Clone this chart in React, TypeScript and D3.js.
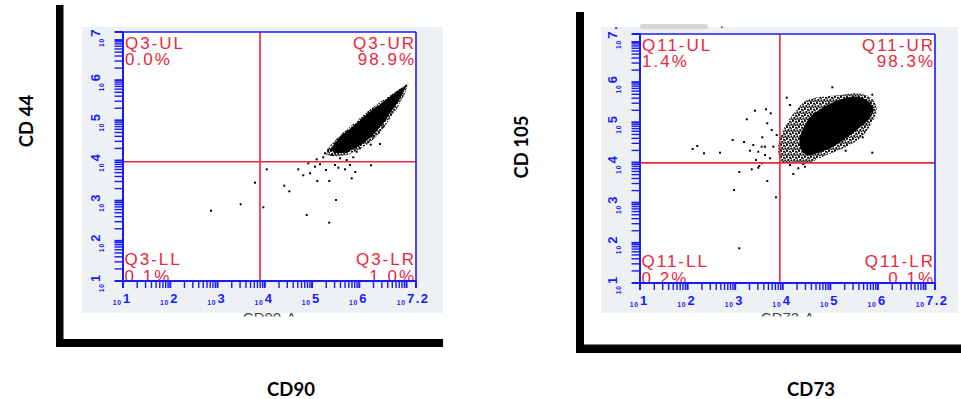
import React from 'react';
import * as d3 from 'd3';

type Pt = [number, number];

// ---------- data (log10 units) ----------
const AXIS_MAX_EXP = 7.2;
const tickExponents = [1, 2, 3, 4, 5, 6, 7.2];

const yTitles = ['CD 44', 'CD 105'];
const xTitles = ['CD90', 'CD73'];
const channelNames = ['CD90-A', 'CD73-A'];

const leftQuadrants = ['Q3-UL', 'Q3-UR', 'Q3-LL', 'Q3-LR'];
const leftPercents = ['0.0%', '98.9%', '0.1%', '1.0%'];
const rightQuadrants = ['Q11-UL', 'Q11-UR', 'Q11-LL', 'Q11-LR'];
const rightPercents = ['1.4%', '98.3%', '0.2%', '0.1%'];

const leftGate: Pt = [3.9, 3.97];
const rightGate: Pt = [3.94, 3.99];

const leftCore: Pt[] = [
  [7.016, 5.905], [6.791, 5.714], [6.508, 5.465], [6.226, 5.216], [5.945, 4.927],
  [5.767, 4.76], [5.628, 4.635], [5.534, 4.511], [5.45, 4.386], [5.38, 4.262],
  [5.522, 4.18], [5.733, 4.195], [5.945, 4.329], [6.157, 4.493], [6.332, 4.678],
  [6.508, 4.927], [6.65, 5.176], [6.825, 5.465], [6.967, 5.773],
];
const leftHalo: Pt[] = [
  [7.04, 5.93], [6.8, 5.74], [6.5, 5.5], [6.2, 5.25], [5.92, 4.96], [5.64, 4.68],
  [5.45, 4.46], [5.32, 4.28], [5.3, 4.14], [5.48, 4.1], [5.75, 4.14], [5.98, 4.27],
  [6.22, 4.44], [6.42, 4.66], [6.6, 4.95], [6.8, 5.3], [6.96, 5.65], [7.02, 5.85],
];
const leftDots: Pt[] = [
  [2.862, 2.75], [3.49, 2.91], [3.793, 3.448], [4.041, 3.781], [3.969, 2.835],
  [4.413, 3.373], [4.519, 3.234], [4.887, 2.643], [5.365, 2.452], [5.507, 3.017],
  [5.111, 3.49], [5.365, 3.49], [4.815, 3.632], [4.709, 3.781], [4.957, 3.682],
  [5.839, 3.557], [5.915, 3.714], [6.248, 3.881], [5.697, 3.781], [5.556, 3.821],
  [5.295, 3.764], [5.063, 3.846], [5.168, 3.906], [4.921, 3.931], [5.486, 3.888],
  [5.803, 3.888], [6.438, 4.411], [6.241, 4.394], [6.508, 4.842], [6.121, 4.593],
  [6.015, 4.304], [5.945, 4.22], [5.344, 4.262], [5.416, 4.137], [5.238, 4.08],
  [5.099, 4.03], [5.592, 4.055], [5.733, 4.013], [5.873, 4.08], [5.274, 4.18],
  [5.486, 4.195], [6.296, 4.618], [6.19, 4.469], [6.544, 5.133], [6.614, 5.3],
];

const rightCore: Pt[] = [
  [4.363, 4.643], [4.447, 4.892], [4.573, 5.126], [4.783, 5.325], [5.134, 5.539],
  [5.449, 5.639], [5.693, 5.599], [5.87, 5.432], [5.903, 5.265], [5.798, 5.059],
  [5.554, 4.81], [5.273, 4.561], [4.993, 4.354], [4.714, 4.23], [4.504, 4.187],
  [4.378, 4.354],
];
const rightHalo: Pt[] = [
  [3.942, 4.603], [4.083, 4.977], [4.293, 5.308], [4.504, 5.557], [4.852, 5.639],
  [5.203, 5.681], [5.554, 5.724], [5.87, 5.599], [5.975, 5.308], [5.87, 4.977],
  [5.66, 4.643], [5.344, 4.394], [4.924, 4.187], [4.504, 3.981], [4.222, 4.02],
  [3.978, 4.02], [3.907, 4.269],
];
const rightDots: Pt[] = [
  [5.042, 5.873], [5.882, 5.689], [5.882, 4.245], [4.083, 5.614], [4.153, 5.432],
  [3.417, 5.29], [3.648, 5.325], [3.747, 5.226], [3.243, 5.076], [3.675, 4.977],
  [3.768, 4.81], [2.948, 4.561], [3.186, 4.511], [2.108, 4.337], [2.204, 4.411],
  [2.345, 4.23], [2.681, 4.245], [3.381, 4.436], [3.312, 4.294], [3.558, 4.394],
  [3.486, 4.269], [3.627, 4.187], [3.438, 4.063], [3.558, 3.981], [3.348, 3.831],
  [3.486, 3.871], [3.087, 3.764], [3.675, 3.54], [2.976, 3.316], [3.858, 3.134],
  [3.087, 1.864], [4.222, 3.714], [4.327, 3.856], [4.468, 3.896], [3.732, 4.105],
  [3.802, 4.394], [3.873, 4.685], [5.681, 4.628], [5.323, 4.294], [4.153, 3.938],
  [4.432, 3.963], [3.507, 3.913], [3.57, 4.628], [3.627, 4.394],
];

// ---------- styling ----------
const BLUE = '#1a1aff';
const RED = '#e8283c';
const GRAY = '#eef1f4';
const SANS = '"Liberation Sans", Arial, sans-serif';
const TITLE_FONT = 'Lato, "Open Sans", sans-serif';

interface Geo { l: number; t: number; r: number; b: number; gx: number; gy: number; gw: number; gh: number; }

interface PanelProps {
  id: string; geo: Geo; core: Pt[]; halo: Pt[]; dots: Pt[];
  names: string[]; pcts: string[]; gate: Pt; channel: string;
  pointy: boolean; artifact?: boolean;
}

function Panel({ id, geo, core, halo, dots, names, pcts, gate, channel, pointy, artifact }: PanelProps) {
  const dom = [10, Math.pow(10, AXIS_MAX_EXP)];
  const x = d3.scaleLog().domain(dom).range([geo.l, geo.r]);
  const y = d3.scaleLog().domain(dom).range([geo.b, geo.t]);
  const px = (e: number) => x(Math.pow(10, e));
  const py = (e: number) => y(Math.pow(10, e));
  const shape = (curve: any) =>
    d3.line<Pt>().x(d => px(d[0])).y(d => py(d[1])).curve(curve);
  const curve = pointy ? d3.curveLinearClosed : d3.curveCatmullRomClosed;
  const ticks = x.ticks().filter(v => v <= dom[1] * 1.0001).concat([dom[1]]);
  const isMajor = (v: number) => {
    const l = Math.log10(v);
    return Math.abs(l - Math.round(l)) < 1e-6 || v === dom[1];
  };
  const gx = px(gate[0]);
  const gy = py(gate[1]);
  const lab = { fontFamily: SANS, fontSize: 17, fill: RED, letterSpacing: 2 } as any;
  const tickFont = { fontFamily: SANS, fill: BLUE } as any;
  const expStyle = { ...tickFont, fontSize: 13, fontWeight: 700, letterSpacing: 1.5 };
  const tenStyle = { ...tickFont, fontSize: 6.8, fontWeight: 700, letterSpacing: 0.8 };

  return (
    <g>
      <defs>
        <clipPath id={`gray-${id}`}>
          <rect x={geo.gx} y={geo.gy} width={geo.gw} height={geo.gh} />
        </clipPath>
        <clipPath id={`plot-${id}`}>
          <rect x={geo.l} y={geo.t} width={geo.r - geo.l} height={geo.b - geo.t} />
        </clipPath>
        <clipPath id={`chan-${id}`}>
          <rect x={geo.gx} y={geo.gy + geo.gh - 1.5} width={geo.gw} height={5} />
        </clipPath>
        <pattern id={`sp-${id}`} width={6} height={6} patternUnits="userSpaceOnUse">
          <rect x={0} y={0} width={1.9} height={1.9} fill="#000" />
          <rect x={3.1} y={0.8} width={1.9} height={1.9} fill="#000" />
          <rect x={1.4} y={3.0} width={1.9} height={1.9} fill="#000" />
          <rect x={4.4} y={3.6} width={1.9} height={1.9} fill="#000" />
          <rect x={2.6} y={5.0} width={1.6} height={1.6} fill="#000" />
          <rect x={5.2} y={1.8} width={1.4} height={1.4} fill="#000" />
          <rect x={0.2} y={4.6} width={1.4} height={1.4} fill="#000" />
        </pattern>
      </defs>
      <rect x={geo.gx} y={geo.gy} width={geo.gw} height={geo.gh} fill={GRAY} />
      {artifact && (
        <g>
          <rect x={geo.l} y={geo.gy - 3} width={68} height={5} rx={2.5} fill="#d6d6d6" />
          <rect x={geo.l + 81} y={geo.gy - 0.5} width={1.6} height={1.6} fill="#444" />
        </g>
      )}
      <g clipPath={`url(#gray-${id})`}>
        <rect x={geo.l} y={geo.t} width={geo.r - geo.l} height={geo.b - geo.t} fill="#fff" />
        <g clipPath={`url(#plot-${id})`}>
          <path d={shape(curve)(halo) || ''} fill={`url(#sp-${id})`} />
          <path d={shape(curve)(core) || ''} fill="#000" />
          {dots.map((d, i) => (
            <rect key={i} x={px(d[0]) - 1} y={py(d[1]) - 1} width={2} height={2} fill="#000" />
          ))}
        </g>
        {/* quadrant gates */}
        <line x1={gx} x2={gx} y1={geo.t} y2={geo.b} stroke={RED} strokeWidth={1.6} />
        <line x1={geo.l} x2={geo.r} y1={gy} y2={gy} stroke={RED} strokeWidth={1.6} />
        {/* quadrant labels */}
        <text x={geo.l + 2} y={geo.t + 17} style={lab}>
          <tspan x={geo.l + 2}>{names[0]}</tspan>
          <tspan x={geo.l + 2} dy={16}>{pcts[0]}</tspan>
        </text>
        <text x={geo.r} y={geo.t + 17} textAnchor="end" style={lab}>
          <tspan x={geo.r}>{names[1]}</tspan>
          <tspan x={geo.r} dy={16}>{pcts[1]}</tspan>
        </text>
        <text x={geo.l + 1.5} y={geo.b - 16} style={lab}>
          <tspan x={geo.l + 1.5}>{names[2]}</tspan>
          <tspan x={geo.l + 1.5} dy={16.5}>{pcts[2]}</tspan>
        </text>
        <text x={geo.r} y={geo.b - 16} textAnchor="end" style={lab}>
          <tspan x={geo.r}>{names[3]}</tspan>
          <tspan x={geo.r} dy={16.5}>{pcts[3]}</tspan>
        </text>
        {/* frame and axes */}
        <line x1={geo.l - 8} x2={geo.r} y1={geo.t} y2={geo.t} stroke={BLUE} strokeWidth={1.6} />
        <line x1={geo.r} x2={geo.r} y1={geo.t} y2={geo.b + 7} stroke={BLUE} strokeWidth={1.6} />
        <line x1={geo.l - 8} x2={geo.r} y1={geo.b} y2={geo.b} stroke={BLUE} strokeWidth={2} />
        <line x1={geo.l} x2={geo.l} y1={geo.t} y2={geo.b + 7} stroke={BLUE} strokeWidth={2} />
        {ticks.map((v, i) => (
          <g key={i}>
            <line x1={x(v)} x2={x(v)} y1={geo.b} y2={geo.b + 7} stroke={BLUE}
              strokeWidth={isMajor(v) ? 2 : 1.4} />
            <line x1={geo.l - 8.5} x2={geo.l} y1={y(v)} y2={y(v)} stroke={BLUE}
              strokeWidth={isMajor(v) ? 2 : 1.4} />
          </g>
        ))}
        {tickExponents.map((e, i) => {
          const last = e === AXIS_MAX_EXP;
          const bx = px(e) + (last ? -9 : 0);
          const by = py(e) + (last ? 4.7 : 1);
          const label = String(e);
          return (
            <g key={i}>
              <text x={bx - 1.2} y={geo.b + 24} textAnchor="end" style={tenStyle}>10</text>
              <text x={bx} y={geo.b + 21.5} style={expStyle}>{label}</text>
              <g transform={`translate(${geo.l},${by}) rotate(-90)`}>
                <text x={-1.2} y={-19.3} textAnchor="end" style={tenStyle}>10</text>
                <text x={0} y={-23} style={expStyle}>{label}</text>
              </g>
            </g>
          );
        })}
      </g>
      <g clipPath={`url(#chan-${id})`}>
        <text x={(geo.l + geo.r) / 2} y={geo.gy + geo.gh + 9.5} textAnchor="middle"
          fontFamily={SANS} fontSize={15} fill="#444">{channel}</text>
      </g>
    </g>
  );
}

export default function App() {
  const leftGeo: Geo = { l: 123, t: 32, r: 416, b: 281, gx: 82, gy: 27, gw: 361, gh: 286 };
  const rightGeo: Geo = { l: 640, t: 34, r: 935, b: 283, gx: 601, gy: 27, gw: 357, gh: 286 };
  const titleStyle = { fontFamily: TITLE_FONT, fontWeight: 700, fontSize: 18.5, fill: '#000' } as any;
  return (
    <svg width={961} height={399} viewBox="0 0 961 399"
      style={{ position: 'absolute', left: 0, top: 0, background: '#fff' }}>
      <rect x={0} y={0} width={961} height={399} fill="#fff" />
      <Panel id="a" geo={leftGeo} core={leftCore} halo={leftHalo} dots={leftDots}
        names={leftQuadrants} pcts={leftPercents} gate={leftGate} channel={channelNames[0]}
        pointy={true} />
      <Panel id="b" geo={rightGeo} core={rightCore} halo={rightHalo} dots={rightDots}
        names={rightQuadrants} pcts={rightPercents} gate={rightGate} channel={channelNames[1]}
        pointy={false} artifact={true} />
      {/* black frame bars */}
      <rect x={56} y={5} width={7.5} height={342} fill="#000" />
      <rect x={56} y={339} width={387} height={8} fill="#000" />
      <rect x={576} y={12} width={8} height={341} fill="#000" />
      <rect x={576} y={344.5} width={385} height={8.5} fill="#000" />
      {/* axis titles */}
      <text transform="translate(32.5,121) rotate(-90)" textAnchor="middle" style={titleStyle}>{yTitles[0]}</text>
      <text transform="translate(528,147) rotate(-90)" textAnchor="middle" style={titleStyle}>{yTitles[1]}</text>
      <text x={291} y={396} textAnchor="middle" style={titleStyle}>{xTitles[0]}</text>
      <text x={811} y={396} textAnchor="middle" style={titleStyle}>{xTitles[1]}</text>
    </svg>
  );
}
